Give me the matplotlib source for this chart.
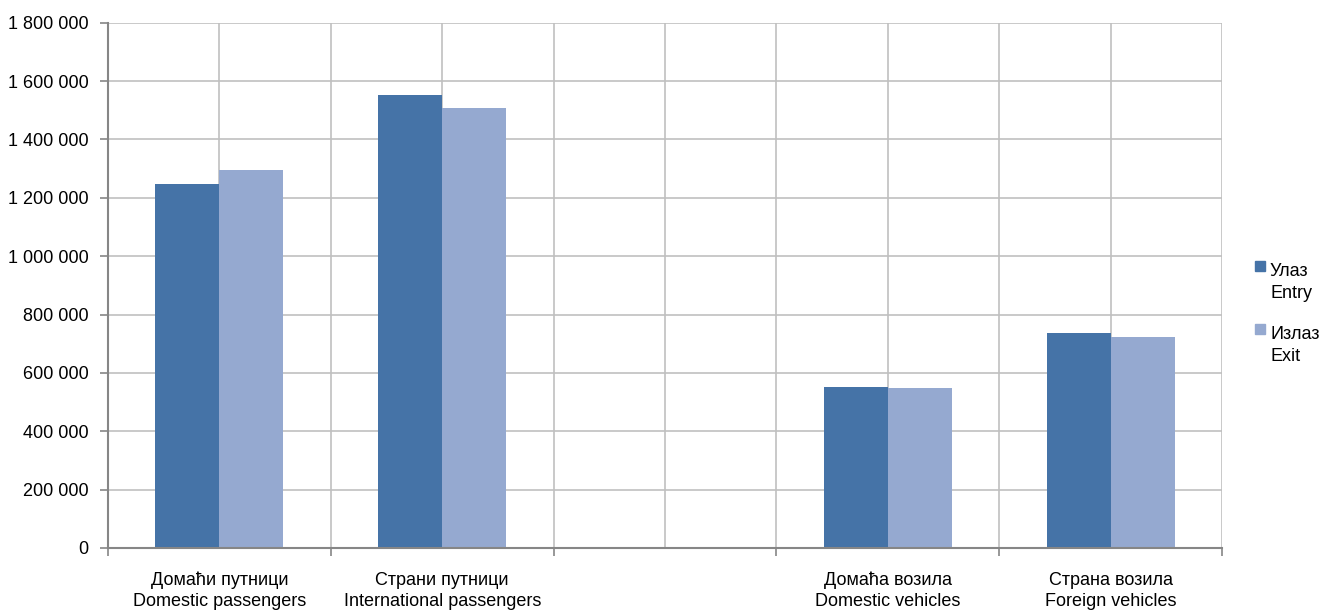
import matplotlib
matplotlib.use("Agg")
import matplotlib.pyplot as plt
import matplotlib.ticker as mticker
from matplotlib.patches import Rectangle
import numpy as np

plt.rcParams['font.family'] = ['Liberation Sans', 'DejaVu Sans']

# podaci
kategorije = ["Домаћи путници\nDomestic passengers",
              "Страни путници\nInternational passengers",
              "",
              "Домаћа возила\nDomestic vehicles",
              "Страна возила\nForeign vehicles"]
ulaz = [1249000, 1552000, 0, 551000, 737000]
izlaz = [1294000, 1508000, 0, 548000, 722000]
serije = ["Улаз\nEntry", "Излаз\nExit"]
boje = ["#4573A7", "#95A9D0"]

fig = plt.figure(figsize=(13.22, 6.10), dpi=100)
ax = fig.add_axes([108/1322, 1-548/610, (1222-108)/1322, (548-22.7)/610])

x = np.arange(len(kategorije))
w = 0.287
ax.bar(x - w/2, ulaz, w, color=boje[0], zorder=2)
ax.bar(x + w/2, izlaz, w, color=boje[1], zorder=2)

ax.set_xlim(-0.5, len(kategorije) - 0.5)
ax.set_ylim(0, 1800000)
ax.set_yticks(np.arange(0, 1800001, 200000))
ax.yaxis.set_major_formatter(mticker.FuncFormatter(lambda v, p: f"{int(v):,}".replace(",", " ")))

# granice kategorija kao glavni podeoci, nazivi kao sporedni
ax.set_xticks(np.arange(-0.5, len(kategorije), 1.0))
ax.set_xticklabels([])
ax.set_xticks(x, minor=True)
ax.set_xticklabels(kategorije, minor=True, fontsize=13, linespacing=1.3)
ax.tick_params(axis='x', which='minor', length=0, pad=17)
ax.tick_params(axis='x', which='major', length=6, color="#868686", width=1.2)
ax.tick_params(axis='y', length=6, color="#868686", width=1.2, labelsize=13, pad=8)

ax.grid(True, which='both', color="#C0C0C0", linewidth=1.2)
ax.set_axisbelow(True)
for s in ['top', 'right']:
    ax.spines[s].set_visible(False)
for s in ['left', 'bottom']:
    ax.spines[s].set_color("#868686")
    ax.spines[s].set_linewidth(1.5)

# legenda
for i, (ime, boja) in enumerate(zip(serije, boje)):
    yk = 1 - (266 + i*63)/610
    fig.patches.append(Rectangle((1255/1322, yk - 5/610), 10/1322, 10/610,
                                 transform=fig.transFigure, color=boja))
    fig.text(1270/1322, yk + 3/610, ime, fontsize=13, va='top', ha='left', linespacing=1.35)

fig.savefig("out.png", dpi=100)
